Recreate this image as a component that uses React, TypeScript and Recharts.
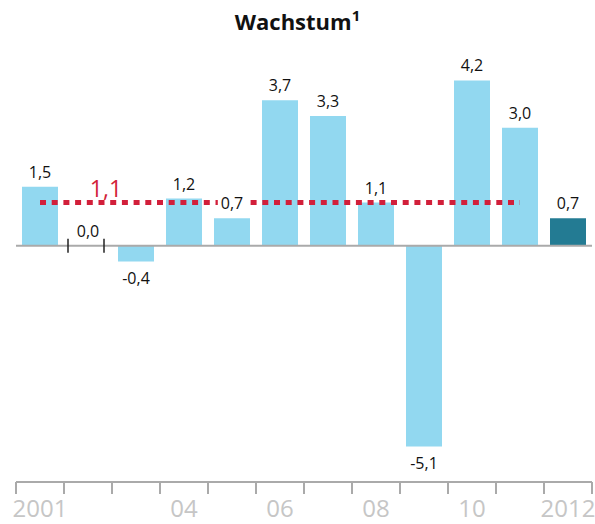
import React from 'react';
import { ComposedChart, Bar, Line, XAxis, YAxis, ReferenceLine, LabelList, Cell } from 'recharts';

// Wachstum in % je Jahr
const years = ['2001', '2002', '2003', '2004', '2005', '2006', '2007', '2008', '2009', '2010', '2011', '2012'];
const growth = [1.5, 0.0, -0.4, 1.2, 0.7, 3.7, 3.3, 1.1, -5.1, 4.2, 3.0, 0.7];
// Durchschnitt 2001-2011
const average = [1.1, 1.1, 1.1, 1.1, 1.1, 1.1, 1.1, 1.1, 1.1, 1.1, 1.1, null];
const tickLabels = ['2001', '', '', '04', '', '06', '', '08', '', '10', '', '2012'];

const data = years.map((year, i) => ({
  year,
  growth: growth[i],
  avg: average[i],
}));

const LIGHT = '#92d8f0';
const DARK = '#237b93';
const RED = '#d21f3a';
const FONT = '"Open Sans", "DejaVu Sans", sans-serif';
const HALF_BAR = 18;

const fmt = (v: number) => v.toFixed(1).replace('.', ',');

// value labels, drawn after the dashed line on a white box
const ValueLabel = (props: any) => {
  const { x, y, value } = props;
  const s = fmt(value);
  const w = s.replace(/[^0-9-]/g, '').length * 9.2 + 4 + 6;
  const txt = (ty: number) => (
    <g>
      <rect x={x - w / 2} y={ty - 14} width={w} height={18} fill="#fff" />
      <text x={x} y={ty} textAnchor="middle" fontSize={16} fontFamily={FONT} fill="#111">
        {s}
      </text>
    </g>
  );
  if (value === 0) {
    return (
      <g>
        <line x1={x - HALF_BAR - 2} x2={x - HALF_BAR - 2} y1={y - 7} y2={y + 7} stroke="#222" strokeWidth={1.5} />
        <line x1={x + HALF_BAR - 2} x2={x + HALF_BAR - 2} y1={y - 7} y2={y + 7} stroke="#222" strokeWidth={1.5} />
        {txt(y - 9)}
      </g>
    );
  }
  if (value < 0) return txt(y + 22);
  return txt(y - 9);
};

const AvgLabel = (props: any) => {
  const { x, y, index, value } = props;
  if (index !== 1) return null;
  return (
    <text x={x + 18} y={y - 6} textAnchor="middle" fontSize={23} fontFamily={FONT} fill={RED}>
      {fmt(value)}
    </text>
  );
};

const YearTick = (props: any) => {
  const { x, y, index } = props;
  const half = 24;
  const label = tickLabels[index] ?? '';
  return (
    <g>
      <line x1={x - half} x2={x - half} y1={y} y2={y + 12} stroke="#aaa" strokeWidth={2} />
      {index === years.length - 1 && (
        <line x1={x + half} x2={x + half} y1={y} y2={y + 12} stroke="#aaa" strokeWidth={2} />
      )}
      <text x={x} y={y + 35} textAnchor="middle" fontSize={24} fontWeight={500} fontFamily={FONT} fill="#c6c6c6">
        {label}
      </text>
    </g>
  );
};

export default function App() {
  return (
    <div style={{ position: 'absolute', left: 0, top: 0, width: 595, height: 524, background: '#fff' }}>
      <div
        style={{
          position: 'absolute',
          top: 6,
          left: 0,
          width: 595,
          textAlign: 'center',
          fontFamily: FONT,
          fontWeight: 700,
          fontSize: 22,
          color: '#111',
        }}
      >
        Wachstum<sup style={{ fontSize: 15, verticalAlign: 'top', position: 'relative', top: -1 }}>1</sup>
      </div>
      <ComposedChart
        width={595}
        height={524}
        data={data}
        margin={{ top: 49, right: 3, left: 16, bottom: 0 }}
      >
        <XAxis
          dataKey="year"
          height={42}
          axisLine={{ stroke: '#aaa', strokeWidth: 2 }}
          tickLine={false}
          tickSize={0}
          tickMargin={0}
          interval={0}
          tick={<YearTick />}
        />
        <YAxis hide domain={[-6, 5]} allowDataOverflow />
        <ReferenceLine y={0} stroke="#aaa" strokeWidth={2} />
        <Bar dataKey="growth" barSize={36} isAnimationActive={false}>
          {data.map((d, i) => (
            <Cell key={d.year} fill={i === data.length - 1 ? DARK : LIGHT} />
          ))}
        </Bar>
        <Line
          dataKey="avg"
          stroke={RED}
          strokeWidth={5}
          strokeDasharray="6 5.7"
          dot={false}
          activeDot={false}
          isAnimationActive={false}
        >
          <LabelList dataKey="avg" content={<AvgLabel />} />
        </Line>
        <Line
          dataKey="growth"
          stroke="none"
          dot={false}
          activeDot={false}
          isAnimationActive={false}
        >
          <LabelList dataKey="growth" content={<ValueLabel />} />
        </Line>
      </ComposedChart>
    </div>
  );
}
